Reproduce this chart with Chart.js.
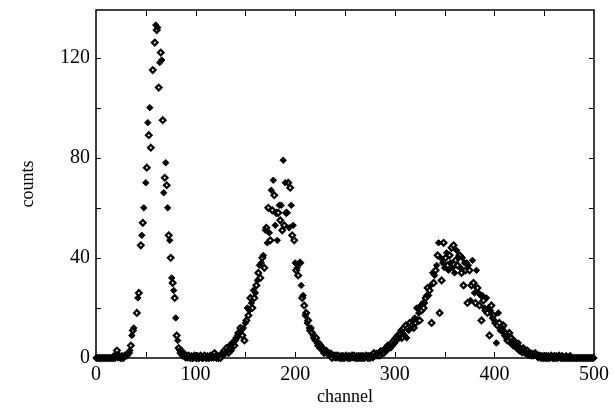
<!DOCTYPE html>
<html>
<head>
<meta charset="utf-8">
<script src="https://cdn.jsdelivr.net/npm/chart.js@4"></script>
<style>
  html, body { margin: 0; padding: 0; background: #fff; }
  #wrap { width: 615px; height: 408px; }
</style>
</head>
<body>
<div id="wrap"><canvas id="spectrum"></canvas></div>
<script>
// counts, one value per channel
// filled diamonds: even channels 0, 2, ... 500
const filledCounts = [
  0, 0, 0, 0, 0, 0, 0, 0, 0, 1,
  1, 0, 0, 1, 0, 1, 2, 3, 9, 12,
  null, 24, null, 49, 60, 70, 94, 100, null, null,
  133, 132, 118, 119, 66, 78, 60, 47, 32, 27,
  16, 7, 3, 3, 2, 0, 0, 0, 1, 0,
  0, 1, 0, 0, 0, 0, 1, 0, 0, 0,
  1, 1, 1, 1, 1, 2, 3, 5, 3, 6,
  7, 9, 10, 11, 12, 14, 20, 19, 22, 27,
  26, 31, 37, 38, 41, 51, 46, 50, 67, 71,
  53, 47, 61, 61, 79, 70, 58, 52, 61, 53,
  38, 36, 38, 29, 25, 17, 14, 12, 12, 9,
  7, 6, 6, 5, 3, 3, 2, 1, 2, 1,
  0, 0, 0, 1, 1, 0, 0, 1, 0, 0,
  0, 1, 1, 1, 1, 0, 1, 1, 1, 0,
  1, 2, 2, 3, 3, 3, 3, 4, 4, 5,
  6, 7, 8, 11, 10, 9, 8, 11, 12, 15,
  16, 20, 18, 21, 22, 22, 25, 25, 29, 34,
  33, 37, 46, 40, 38, 36, 42, 35, 38, 36,
  34, 43, 40, 36, 40, 38, 38, 37, 23, 39,
  26, 35, 26, 25, 25, 20, 24, 20, 19, 16,
  15, 6, 18, 11, 12, 9, 8, 9, 6, 7,
  7, 4, 6, 4, 2, 3, 2, 1, 2, 2,
  1, 1, 0, 1, 1, 1, 1, 1, 0, 0,
  1, 1, 0, 0, 1, 0, 1, 0, 1, 0,
  0, 0, 0, 0, 0, 0, 0, 0, 0, 0,
  0
];

// open diamonds: odd channels 1, 3, ... 499
const openCounts = [
  0, 0, 0, 0, 0, 0, 0, 0, 0, 0,
  3, 1, 0, 0, 1, 1, 2, 5, 11, null,
  18, 26, 45, 54, null, 76, 89, 84, 115, 126,
  131, 108, 122, 95, 72, 69, 49, 40, 30, 24,
  9, 4, 2, 1, 1, 1, 1, 0, 0, 1,
  0, 0, 1, 0, 1, 0, 0, 1, 1, 2,
  0, 0, 0, 2, 3, 4, 2, 4, 6, 5,
  8, 10, 12, 9, 7, 15, 17, 24, 20, 24,
  29, 34, 32, 40, 36, 52, 60, 47, 59, 65,
  58, 58, 55, 51, 53, 58, 70, 68, 49, 47,
  35, 33, 38, 24, 21, 18, 15, 11, 10, 8,
  8, 5, 4, 4, 2, 3, 2, 1, 0, 1,
  1, 1, 0, 0, 0, 1, 0, 0, 1, 1,
  0, 0, 0, 0, 0, 1, 0, 0, 1, 2,
  1, 1, 1, 2, 2, 4, 5, 5, 6, 7,
  8, 9, 9, 8, 12, 13, 12, 14, 13, 12,
  14, 15, 15, 19, 20, 24, 28, 27, 14, 30,
  35, 41, 18, 31, 46, 40, 37, 41, 44, 45,
  39, 37, 41, 34, 29, 35, 22, 35, 29, 30,
  22, 28, 21, 15, 23, 19, 18, 9, 21, 17,
  14, 13, 14, 11, 13, 10, 7, 10, 8, 5,
  5, 5, 3, 3, 4, 2, 3, 2, 1, 1,
  2, 1, 1, 0, 0, 0, 0, 0, 1, 0,
  0, 0, 1, 0, 0, 0, 0, 0, 0, 0,
  0, 0, 0, 0, 0, 0, 0, 0, 0, 0
];

const xTickLabels = [0, 100, 200, 300, 400, 500];
const yTickLabels = [0, 40, 80, 120];

const serif = "'Liberation Serif', 'DejaVu Serif', serif";

// frame with inward ticks on all four sides
const framePlugin = {
  id: "frame",
  beforeDatasetsDraw(chart) {
    const { ctx, chartArea: a, scales } = chart;
    ctx.save();
    ctx.strokeStyle = "#000";
    ctx.lineWidth = 1.5;
    ctx.strokeRect(a.left, a.top, a.right - a.left, a.bottom - a.top);
    ctx.lineWidth = 1;
    ctx.beginPath();
    for (let v = 50; v < 500; v += 50) {
      const px = Math.round(scales.x.getPixelForValue(v)) + 0.5;
      ctx.moveTo(px, a.bottom); ctx.lineTo(px, a.bottom - 6);
      ctx.moveTo(px, a.top); ctx.lineTo(px, a.top + 6);
    }
    for (let v = 20; v < scales.y.max; v += 20) {
      const py = Math.round(scales.y.getPixelForValue(v)) + 0.5;
      ctx.moveTo(a.left, py); ctx.lineTo(a.left + 5, py);
      ctx.moveTo(a.right, py); ctx.lineTo(a.right - 5, py);
    }
    ctx.stroke();
    ctx.restore();
  }
};

const ctx = document.getElementById("spectrum").getContext("2d");
new Chart(ctx, {
  type: "scatter",
  data: {
    datasets: [
      {
        label: "filled",
        data: filledCounts.map((y, i) => ({ x: 2 * i, y })),
        pointStyle: "rectRot",
        pointRadius: 3.2,
        backgroundColor: "#000",
        borderColor: "#000",
        borderWidth: 1,
        clip: false
      },
      {
        label: "open",
        data: openCounts.map((y, i) => ({ x: 2 * i + 1, y })),
        pointStyle: "rectRot",
        pointRadius: 2.8,
        backgroundColor: "#fff",
        borderColor: "#000",
        borderWidth: 2.2,
        clip: false
      }
    ]
  },
  options: {
    responsive: true,
    maintainAspectRatio: false,
    animation: false,
    layout: { padding: { left: 0, top: 10, right: 21, bottom: 0 } },
    plugins: {
      legend: { display: false },
      tooltip: { enabled: false }
    },
    scales: {
      x: {
        type: "linear",
        min: 0,
        max: 500,
        afterFit: (s) => { s.height = 50; s.paddingLeft = 0; s.paddingRight = 0; },
        afterBuildTicks: (s) => { s.ticks = xTickLabels.map((v) => ({ value: v })); },
        grid: { display: false, drawTicks: false },
        border: { display: false },
        ticks: {
          padding: 5,
          color: "#000",
          font: { family: serif, size: 20 },
          maxRotation: 0
        },
        title: {
          display: true,
          text: "channel",
          color: "#000",
          font: { family: serif, size: 18 },
          padding: { top: 0, bottom: 0 }
        }
      },
      y: {
        type: "linear",
        min: 0,
        max: 139,
        afterFit: (s) => { s.width = 96; s.paddingTop = 0; s.paddingBottom = 0; },
        afterBuildTicks: (s) => { s.ticks = yTickLabels.map((v) => ({ value: v })); },
        grid: { display: false, drawTicks: false },
        border: { display: false },
        ticks: {
          padding: 6,
          color: "#000",
          font: { family: serif, size: 20 }
        },
        title: {
          display: true,
          text: "counts",
          color: "#000",
          font: { family: serif, size: 18 },
          padding: { top: 17, bottom: 0 }
        }
      }
    }
  },
  plugins: [framePlugin]
});
</script>
</body>
</html>
